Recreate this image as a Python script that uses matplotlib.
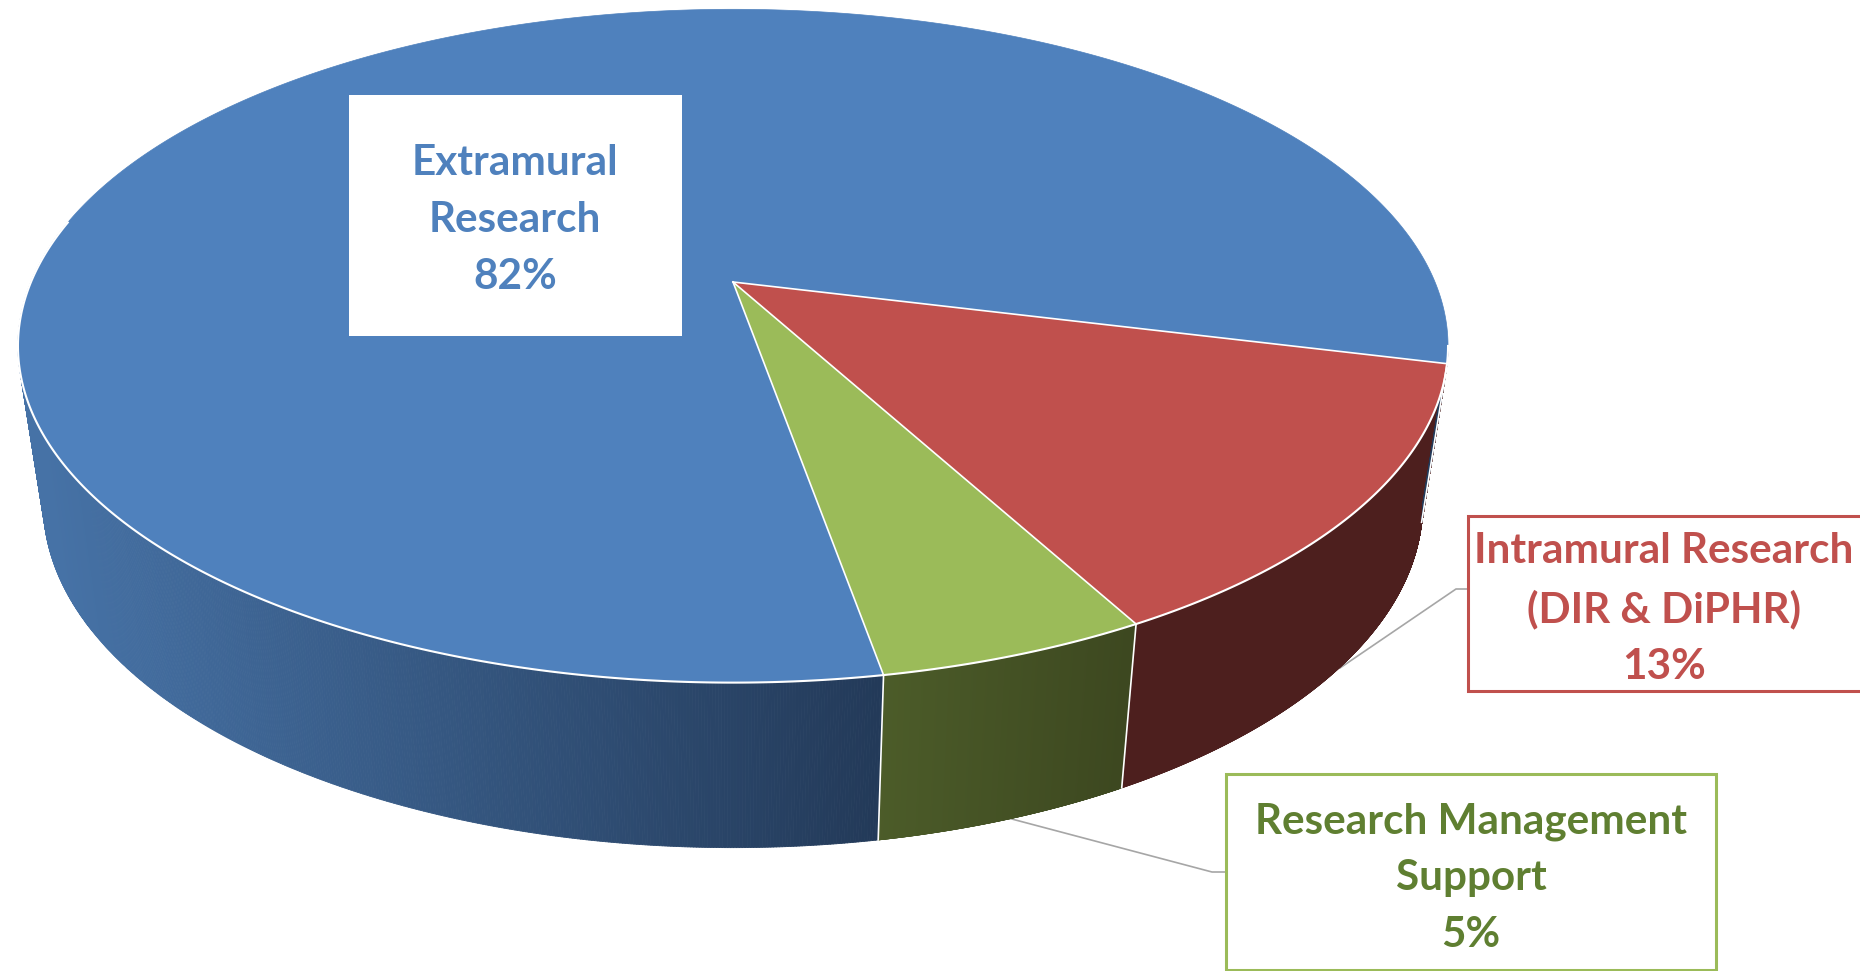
import numpy as np
import matplotlib
matplotlib.use("Agg")
import matplotlib.pyplot as plt
from matplotlib.collections import PolyCollection
from matplotlib.colors import to_rgb
from matplotlib.patches import Polygon, Rectangle

plt.rcParams["path.simplify"] = False

# slices, clockwise from the right hand edge of the red one
categories = ["Intramural Research\n(DIR & DiPHR)", "Research Management\nSupport", "Extramural\nResearch"]
values = [13.2, 5.15, 81.65]
value_labels = ["13%", "5%", "82%"]

top_colors = ["#C0504D", "#9BBB59", "#4F81BD"]
side_left = ["#4D1F1E", "#4C5C29", "#4672A6"]
side_right = ["#4D1F1E", "#3D4820", "#233A59"]
side_span = [(1100, 1400), (880, 1130), (40, 880)]
text_colors = ["#C0504D", "#5F7F31", "#4F81BD"]

start_angle = -13.9

# perspective of the disc, in pixels
TILT = 0.19
CX = 733
TOP_Y, TOP_A, TOP_B = 282, 702, 324.5
LOW_Y, LOW_A, LOW_B = 439, 677, 331


def project(theta, y0, a, b):
    u, v = np.cos(theta), np.sin(theta)
    w = 1 + TILT * v
    return np.column_stack([CX + a * u / w, y0 - b * v / w])


def top_rim(theta):
    return project(theta, TOP_Y, TOP_A, TOP_B)


def low_rim(theta):
    return project(theta, LOW_Y, LOW_A, LOW_B)


def lerp_color(c0, c1, t):
    c0, c1 = np.array(to_rgb(c0)), np.array(to_rgb(c1))
    return c0 + (c1 - c0) * np.clip(t, 0, 1)


fig = plt.figure(figsize=(18.6, 9.71), dpi=100)
ax = fig.add_axes([0, 0, 1, 1])
ax.set_xlim(0, 1860)
ax.set_ylim(971, 0)
ax.axis("off")

# leader lines go behind the pie
ax.plot([1340, 1456, 1468], [668, 589, 589], color="#A6A6A6", lw=1.2, zorder=1)
ax.plot([1008, 1212, 1226], [818, 872, 872], color="#A6A6A6", lw=1.2, zorder=1)

# angular limits of each slice
sweep = np.radians(np.array(values) / sum(values) * 360)
edges = np.radians(start_angle) - np.concatenate([[0], np.cumsum(sweep)])
side_lo = np.arcsin(-TILT) - np.pi
side_hi = np.arcsin(-TILT)

for i in range(len(values)):
    t0, t1 = edges[i], edges[i + 1]
    t = np.linspace(t0, t1, 1500)

    # side wall, only the front half of the disc shows it
    for shift in [0, 2 * np.pi]:
        ts = t + shift
        ts = ts[(ts >= side_lo) & (ts <= side_hi)]
        if len(ts) < 2:
            continue
        up = top_rim(ts)
        low = low_rim(ts)
        quads = [[up[j], up[j + 1], low[j + 1], low[j]] for j in range(len(ts) - 1)]
        xa, xb = side_span[i]
        cols = [lerp_color(side_left[i], side_right[i], (q[0][0] - xa) / (xb - xa)) for q in quads]
        ax.add_collection(PolyCollection(quads, facecolors=cols, edgecolors=cols, linewidths=0.6, zorder=2))

    # top face
    rim = top_rim(t)
    ax.add_patch(Polygon(np.vstack([[CX, TOP_Y], rim]), closed=True, facecolor=top_colors[i],
                         edgecolor=top_colors[i], lw=0.5, zorder=3))

# white lines between the slices
front = np.linspace(side_hi, side_lo, 500)
rim = top_rim(front)
ax.plot(rim[:, 0], rim[:, 1], color="white", lw=1.5, zorder=4)
for k in range(len(values)):
    p = top_rim(np.array([edges[k]]))[0]
    q = low_rim(np.array([edges[k]]))[0]
    ax.plot([CX, p[0]], [TOP_Y, p[1]], color="white", lw=1.2, zorder=4)
    if np.sin(edges[k]) < -TILT:
        ax.plot([p[0], q[0]], [p[1], q[1]], color="white", lw=1.2, zorder=4)

# label boxes
boxes = [(1468, 516, 400, 175), (1226, 774, 490, 196), (349, 95, 333, 241)]
centers = [(1664, 609), (1471, 878), (515, 220)]
box_edges = ["#C0504D", "#9BBB59", "none"]

for i in range(len(values)):
    x, y, w, h = boxes[i]
    ax.add_patch(Rectangle((x, y), w, h, facecolor="white", edgecolor=box_edges[i], lw=2.2, zorder=5))
    ax.text(centers[i][0], centers[i][1], categories[i] + "\n" + value_labels[i], color=text_colors[i],
            family="Lato", weight="bold", fontsize=30.4, ha="center", va="center",
            linespacing=1.6, zorder=6)

plt.savefig("out.png", dpi=100)
plt.close()
